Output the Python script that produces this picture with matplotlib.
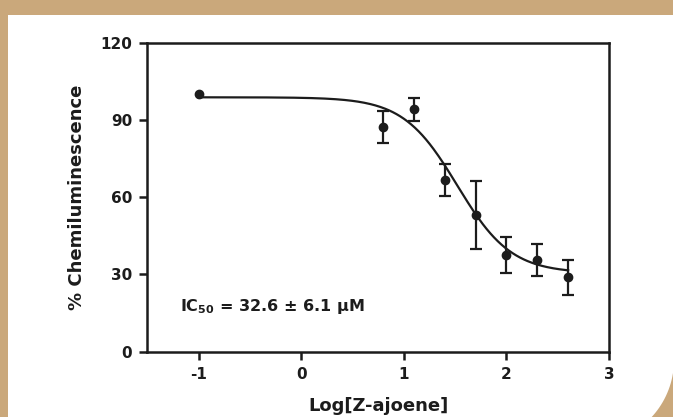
import numpy as np
import matplotlib
matplotlib.use('Agg')
import matplotlib.pyplot as plt
from matplotlib.patches import PathPatch
from matplotlib.path import Path

# ---- data ----
log_conc = [-1.0, 0.796, 1.097, 1.398, 1.699, 2.0, 2.301, 2.602]
response = [100.0, 87.4, 94.1, 66.7, 53.1, 37.6, 35.6, 28.9]
error = [np.nan, 6.2, 4.5, 6.2, 13.2, 6.9, 6.3, 6.7]

# four-parameter logistic fit shown in the chart
fit_top = 98.8
fit_bottom = 30.5
fit_log_ic50 = 1.52
fit_hill = 1.65

x_ticks = [-1, 0, 1, 2, 3]
y_ticks = [0, 30, 60, 90, 120]
x_label = 'Log[Z-ajoene]'
y_label = '% Chemiluminescence'
annotation = r'IC$_{\mathbf{50}}$ = 32.6 ± 6.1 μM'

TAN = '#CAA87B'
INK = '#1c1c1c'
W, H = 673, 417

plt.rcParams['font.family'] = ['DejaVu Sans']
plt.rcParams['font.weight'] = 'bold'
plt.rcParams['mathtext.default'] = 'bf'

fig = plt.figure(figsize=(W / 100, H / 100), dpi=100, facecolor=TAN)

# white panel with rounded bottom-right corner (pixel coords, origin bottom-left)
cx, cy, r = 590, 57, 84
ang = np.linspace(0, -np.pi / 2, 40)
arc = [(cx + r * np.cos(a), cy + r * np.sin(a)) for a in ang]
verts = [(8, -40), (8, 402), (690, 402), (690, cy), (cx + r, cy)] + arc + [(cx, -40), (8, -40)]
verts = [(x / W, y / H) for x, y in verts]
panel = PathPatch(Path(verts), facecolor='white', edgecolor='none',
                  transform=fig.transFigure, zorder=0)
fig.add_artist(panel)

ax = fig.add_axes([147.3 / W, 1 - 351.7 / H, (609 - 147.3) / W, (351.7 - 42.7) / H])
ax.set_facecolor('white')

xs = np.linspace(min(log_conc), max(log_conc), 300)
curve = fit_bottom + (fit_top - fit_bottom) / (1 + 10 ** ((xs - fit_log_ic50) * fit_hill))
ax.plot(xs, curve, color=INK, lw=1.6, zorder=2)

ax.errorbar(log_conc, response, yerr=error, fmt='o', color=INK, ms=6,
            elinewidth=1.6, capsize=4.5, capthick=1.6, zorder=3)

ax.set_xlim(-1.5, 3)
ax.set_ylim(0, 120)
ax.set_xticks(x_ticks)
ax.set_yticks(y_ticks)
ax.set_xticklabels([str(t) for t in x_ticks])
ax.set_yticklabels([str(t) for t in y_ticks])

for s in ax.spines.values():
    s.set_linewidth(1.8)
    s.set_color(INK)
ax.tick_params(direction='out', length=6, width=1.8, labelsize=11, colors=INK, pad=5)
for lab in ax.get_xticklabels() + ax.get_yticklabels():
    lab.set_fontweight('bold')

ax.set_xlabel(x_label, fontsize=13, fontweight='bold', color=INK, va='top')
ax.xaxis.set_label_coords(0.5, -0.148)
ax.set_ylabel(y_label, fontsize=13, fontweight='bold', color=INK, va='center')
ax.yaxis.set_label_coords(-0.152, 0.5)

ax.text(-1.18, 17.4, annotation, fontsize=11.5, fontweight='bold', color=INK,
        ha='left', va='center')

fig.savefig('out.png', dpi=100, facecolor=TAN)
